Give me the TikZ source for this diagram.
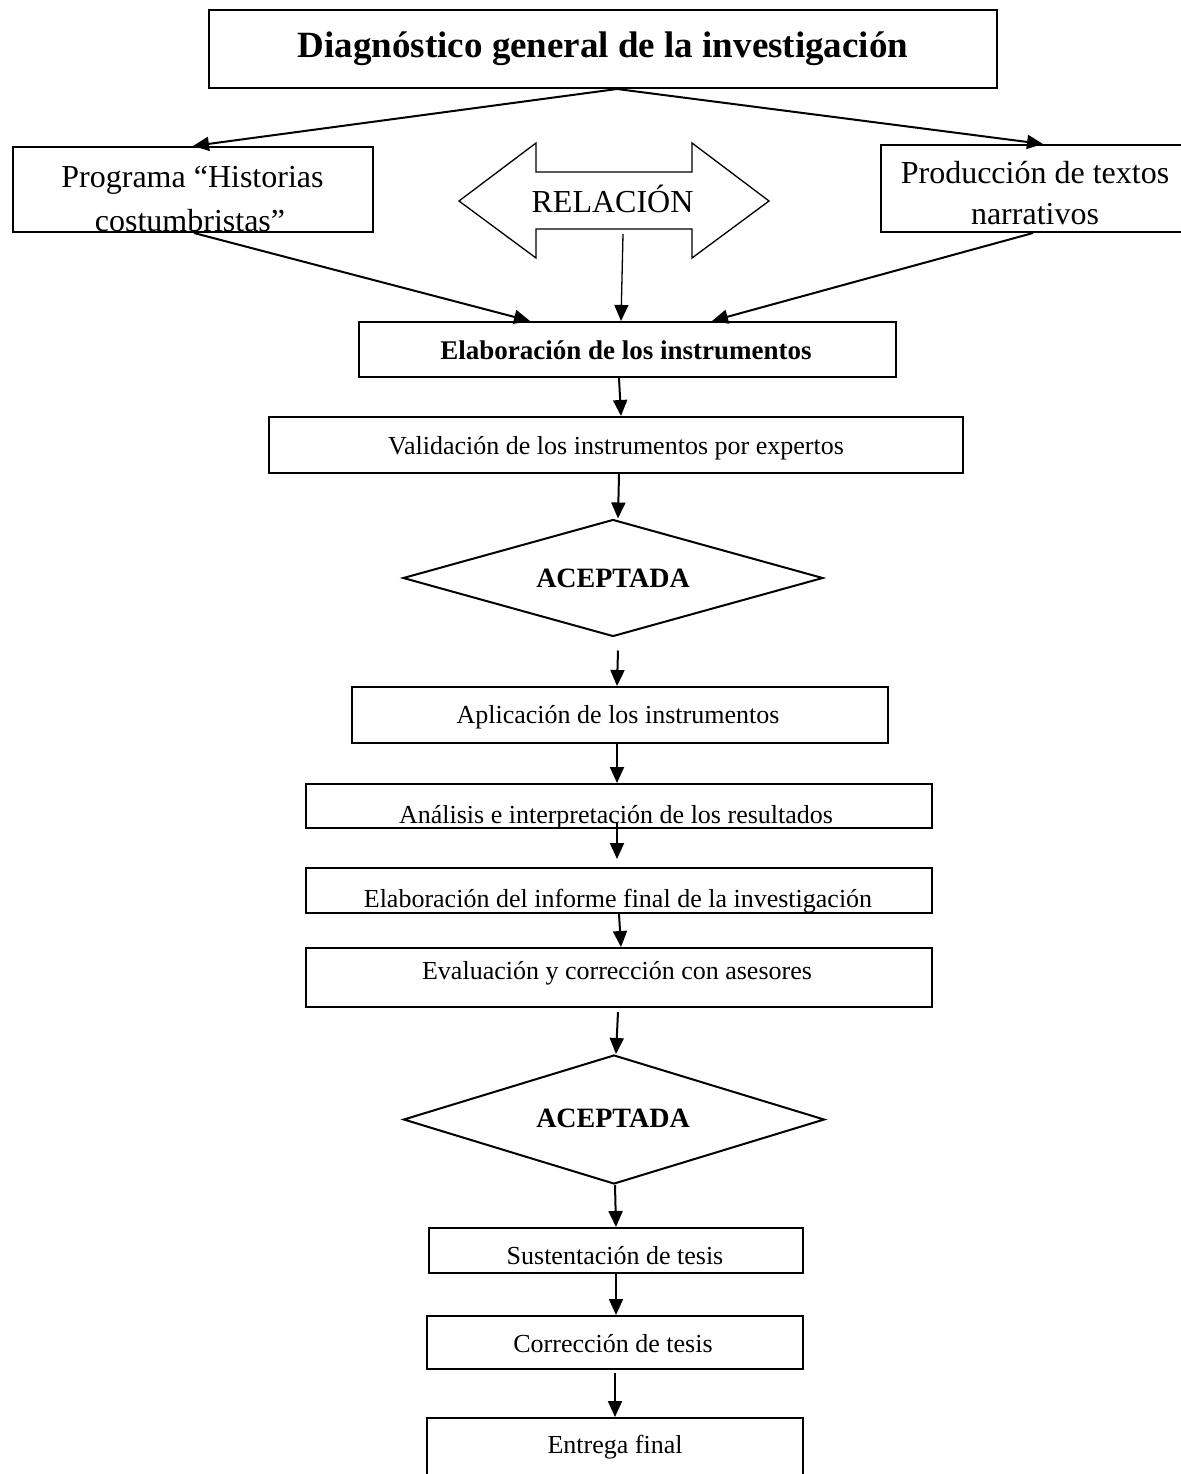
\documentclass[tikz,border=0pt]{standalone}
\usepackage{fontspec}
\setmainfont{Liberation Serif}
\usetikzlibrary{arrows.meta,shapes.geometric}
\begin{document}
\begin{tikzpicture}[x=1pt,y=-1pt,
  box/.style={draw, line width=2pt, inner sep=0pt, rectangle},
  dia/.style={draw, line width=2pt, diamond, inner sep=0pt},
  arr/.style={line width=2pt, -{Triangle[length=16pt,width=14pt]}},
  tx/.style={inner sep=0pt, anchor=base},
  big/.style={font=\fontsize{32}{38}\selectfont},
  body/.style={font=\fontsize{26}{31}\selectfont},
  bbody/.style={font=\fontsize{27}{32}\selectfont\bfseries},
  dtext/.style={font=\fontsize{28}{33}\selectfont\bfseries},
]
\fill[white] (0,0) rectangle (1180,1474);
\useasboundingbox (0,0) rectangle (1180,1474);

% boxes
\node[box, minimum width=788pt, minimum height=78pt] (title) at (603,49) {};
\node[box, minimum width=360pt, minimum height=85pt] (prog) at (193,189.5) {};
\node[box, minimum width=309pt, minimum height=87pt] (prod) at (1035.5,188.5) {};
\node[box, minimum width=537pt, minimum height=55pt] (elab) at (627.5,349.5) {};
\node[box, minimum width=694pt, minimum height=56pt] (valid) at (616,445) {};
\node[dia, minimum width=420pt, minimum height=117pt] (d1) at (613,578) {};
\node[box, minimum width=536pt, minimum height=56pt] (aplic) at (620,715) {};
\node[box, minimum width=626pt, minimum height=44pt] (anal) at (619,806) {};
\node[box, minimum width=626pt, minimum height=45pt] (inf) at (619,890.5) {};
\node[box, minimum width=626pt, minimum height=59pt] (eval) at (619,977.5) {};
\node[dia, minimum width=421pt, minimum height=129pt] (d2) at (614,1119.5) {};
\node[box, minimum width=374pt, minimum height=45pt] (sust) at (616,1250.5) {};
\node[box, minimum width=376pt, minimum height=53pt] (corr) at (615,1342.5) {};
\node[box, minimum width=376pt, minimum height=82pt] (entr) at (615,1459) {};

% double arrow RELACION
\draw[line width=1.3pt, line join=miter] (459,201) -- (536,143) -- (536,172) -- (692,172)
  -- (692,143) -- (769,201) -- (692,258) -- (692,229) -- (536,229) -- (536,258) -- cycle;
\coordinate (relbot) at (623,234);

% texts
\node[tx, font=\fontsize{37}{44}\selectfont\bfseries] (titleT) at (603,58) {Diagnóstico general de la investigación};
\begin{scope}
  \clip (prog.south west) rectangle (prog.north east);
  \node[tx, big] (progA) at (192.5,187) {Programa “Historias};
  \node[tx, big] (progB) at (190,231) {costumbristas”};
\end{scope}
\node[tx, big] (prodA) at (1035,183) {Producción de textos};
\node[tx, big] (prodB) at (1035,224) {narrativos};
\node[tx, big] (rel) at (612.5,212) {RELACIÓN};
\node[tx, bbody] (elabT) at (626,359) {Elaboración de los instrumentos};
\node[tx, body] (validT) at (616,454) {Validación de los instrumentos por expertos};
\node[tx, dtext] (d1T) at (613,587) {ACEPTADA};
\node[tx, body] (aplicT) at (618,723) {Aplicación de los instrumentos};
\begin{scope}
  \clip (anal.south west) rectangle (anal.north east);
  \node[tx, body] (analT) at (616,823) {Análisis e interpretación de los resultados};
\end{scope}
\begin{scope}
  \clip (inf.south west) rectangle (inf.north east);
  \node[tx, body] (infT) at (618,907) {Elaboración del informe final de la investigación};
\end{scope}
\node[tx, body] (evalT) at (617,979) {Evaluación y corrección con asesores};
\node[tx, dtext] (d2T) at (613,1127) {ACEPTADA};
\node[tx, body] (sustT) at (615,1264) {Sustentación de tesis};
\node[tx, body] (corrT) at (613,1352) {Corrección de tesis};
\node[tx, body] (entrT) at (615,1453) {Entrega final};

% connectors
\draw[arr] ([xshift=14pt]title.south) -- (prog.north);
\draw[arr] ([xshift=14pt]title.south) -- ([xshift=7.5pt]prod.north);
\draw[arr] ([xshift=1pt]prog.south) -- ([xshift=-97.5pt]elab.north);
\draw[arr, line width=1.3pt] (relbot) -- ([xshift=-6.5pt]elab.north);
\draw[arr] ([xshift=-2.5pt]prod.south) -- ([xshift=84.5pt]elab.north);
\draw[arr] ([xshift=-8.5pt]elab.south) -- ([xshift=5pt]valid.north);
\draw[arr] ([xshift=3pt]valid.south) -- ([xshift=5pt]d1.north);
\draw[arr] ([xshift=5pt,yshift=-13pt]d1.south) -- ([xshift=-3pt]aplic.north);
\draw[arr] ([xshift=-3pt]aplic.south) -- ([xshift=-2pt]anal.north);
\draw[arr] ([xshift=-2pt,yshift=6pt]anal.south) -- ([xshift=-2pt,yshift=8pt]inf.north);
\draw[arr] (inf.south) -- ([xshift=2pt]eval.north);
\draw[arr] ([xshift=-1pt,yshift=-4pt]eval.south) -- ([xshift=2pt]d2.north);
\draw[arr] ([xshift=1pt]d2.south) -- (sust.north);
\draw[arr] (sust.south) -- ([xshift=1pt]corr.north);
\draw[arr] ([yshift=-3pt]corr.south) -- (entr.north);
\end{tikzpicture}
\end{document}
